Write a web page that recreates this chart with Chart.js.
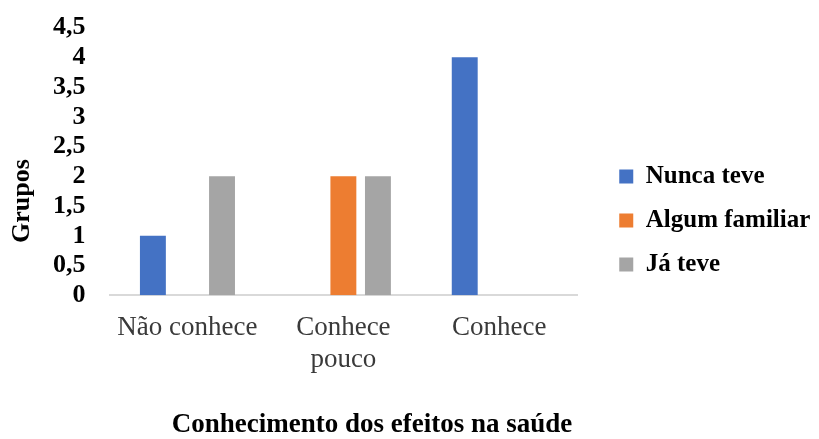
<!DOCTYPE html>
<html>
<head>
<meta charset="utf-8">
<script src="https://cdn.jsdelivr.net/npm/chart.js@4/dist/chart.umd.min.js"></script>
<style>
  html, body { margin: 0; padding: 0; background: #fff; }
  #wrap { width: 819px; height: 439px; }
</style>
</head>
<body>
<div id="wrap"><canvas id="chart"></canvas></div>
<script>
// categories and values
var categories = ['Não conhece', ['Conhece', 'pouco'], 'Conhece'];
var nuncaTeve = [1, 0, 4];
var algumFamiliar = [0, 2, 0];
var jaTeve = [2, 2, 0];
var seriesNames = ['Nunca teve', 'Algum familiar', 'Já teve'];
var yTicks = [0, 0.5, 1, 1.5, 2, 2.5, 3, 3.5, 4, 4.5];
var yTitle = 'Grupos';
var xTitle = 'Conhecimento dos efeitos na saúde';

var serif = '"Liberation Serif", "Times New Roman", serif';

// push the legend a bit away from the plot and let it use the rest of the width
var legendShift = {
  id: 'legendShift',
  afterLayout: function(chart) {
    var lg = chart.legend;
    lg.left = chart.chartArea.right + 23;
    lg.right = chart.width;
    lg.width = lg.right - lg.left;
    lg.top += 25;
    lg.bottom += 25;
  }
};

// axis titles are off-centre in the original, so draw them by hand
var axisTitles = {
  id: 'axisTitles',
  afterDraw: function(chart) {
    var c = chart.ctx;
    c.save();
    c.textAlign = 'center';
    c.textBaseline = 'middle';
    c.fillStyle = '#000';
    c.font = 'bold 27px ' + serif;
    c.fillText(xTitle, 372, 425);
    c.translate(22, 201);
    c.rotate(-Math.PI / 2);
    c.font = 'bold 26px ' + serif;
    c.fillText(yTitle, 0, 0);
    c.restore();
  }
};

var ctx = document.getElementById('chart').getContext('2d');
var chart = new Chart(ctx, {
  type: 'bar',
  data: {
    labels: categories,
    datasets: [{
      label: seriesNames[0],
      backgroundColor: '#4472C4',
      data: nuncaTeve
    }, {
      label: seriesNames[1],
      backgroundColor: '#ED7D31',
      data: algumFamiliar
    }, {
      label: seriesNames[2],
      backgroundColor: '#A5A5A5',
      data: jaTeve
    }]
  },
  options: {
    responsive: true,
    maintainAspectRatio: false,
    animation: false,
    datasets: {
      bar: { categoryPercentage: 0.665, barPercentage: 0.75 }
    },
    layout: { padding: { left: 41, right: 63, top: 6, bottom: 54 } },
    plugins: {
      tooltip: { enabled: false },
      legend: {
        position: 'right',
        labels: {
          color: '#000',
          boxWidth: 14,
          boxHeight: 14,
          padding: 19,
          font: { family: serif, size: 25, weight: 'bold' }
        }
      }
    },
    scales: {
      x: {
        grid: { display: false },
        border: { display: true, color: '#d9d9d9', width: 2 },
        ticks: {
          color: '#3a3a3a',
          padding: 9,
          maxRotation: 0,
          font: { family: serif, size: 27, lineHeight: 1.18 }
        }
      },
      y: {
        min: 0,
        max: 4.5,
        grid: { display: false, tickLength: 12 },
        border: { display: false },
        afterBuildTicks: function(axis) {
          axis.ticks = yTicks.map(function(v) { return { value: v }; });
        },
        ticks: {
          autoSkip: false,
          color: '#000',
          padding: 12,
          font: { family: serif, size: 26, weight: 'bold' },
          callback: function(v) { return String(v).replace('.', ','); }
        }
      }
    }
  },
  plugins: [legendShift, axisTitles]
});
</script>
</body>
</html>
